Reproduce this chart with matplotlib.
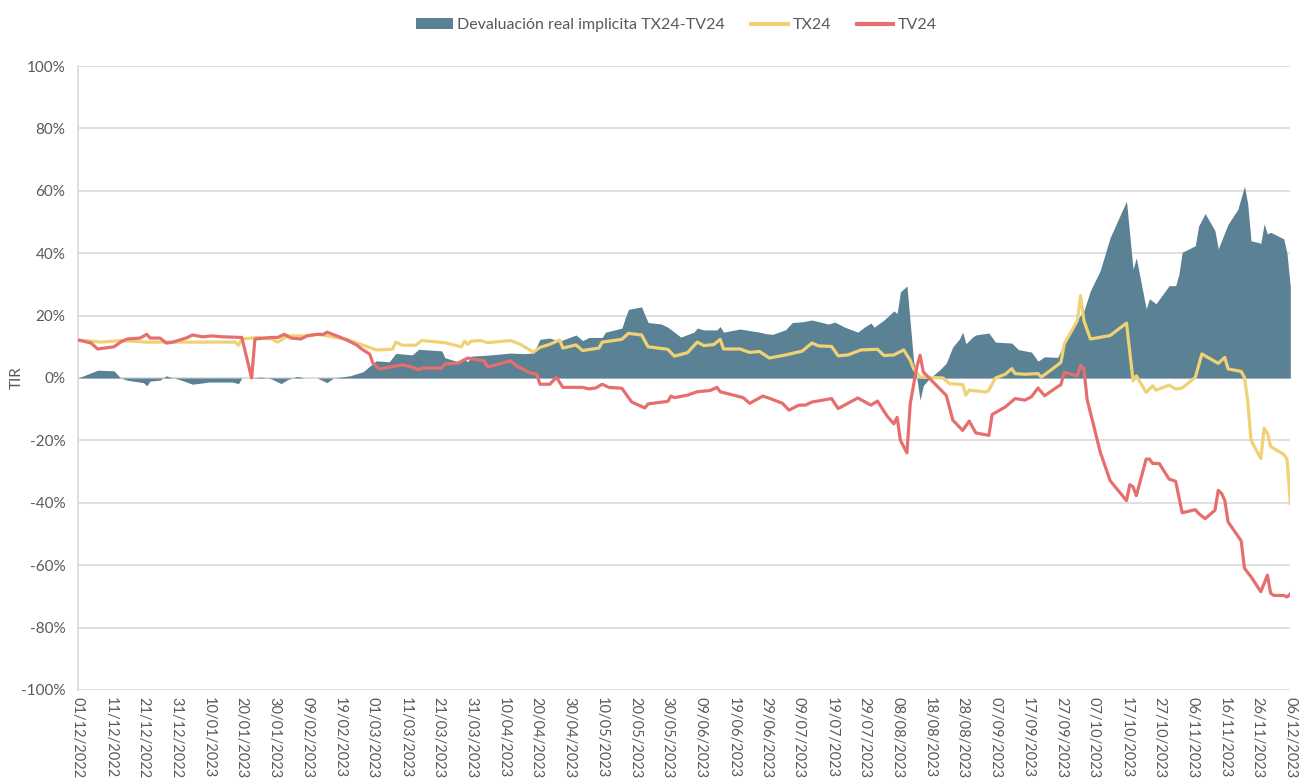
import matplotlib
matplotlib.use("Agg")
import matplotlib.pyplot as plt
from matplotlib.patches import Patch
from matplotlib.lines import Line2D
from matplotlib.ticker import FuncFormatter
import pandas as pd

# ---- data: Devaluación real implícita (area) ----
dev_dates = ["2022-12-01","2022-12-07","2022-12-12","2022-12-14","2022-12-16","2022-12-21","2022-12-22",
             "2022-12-23","2022-12-26","2022-12-28","2022-12-29","2023-01-01","2023-01-05","2023-01-10",
             "2023-01-17","2023-01-19","2023-01-20","2023-01-23","2023-01-26","2023-01-29","2023-02-01",
             "2023-02-03","2023-02-06","2023-02-08","2023-02-12","2023-02-15","2023-02-17","2023-02-22",
             "2023-02-26","2023-03-02","2023-03-06","2023-03-08","2023-03-13","2023-03-15","2023-03-22",
             "2023-03-23","2023-03-27","2023-03-29","2023-03-30","2023-03-31","2023-04-06","2023-04-12",
             "2023-04-16","2023-04-19","2023-04-21","2023-04-24","2023-04-27","2023-04-28","2023-05-02",
             "2023-05-04","2023-05-06","2023-05-10","2023-05-11","2023-05-16","2023-05-17","2023-05-18",
             "2023-05-22","2023-05-23","2023-05-24","2023-05-28","2023-05-30","2023-06-03","2023-06-07",
             "2023-06-08","2023-06-10","2023-06-14","2023-06-15","2023-06-16","2023-06-21","2023-06-24",
             "2023-06-27","2023-06-29","2023-07-01","2023-07-05","2023-07-07","2023-07-10","2023-07-13",
             "2023-07-18","2023-07-20","2023-07-23","2023-07-27","2023-07-29","2023-07-31","2023-08-01",
             "2023-08-04","2023-08-07","2023-08-08","2023-08-09","2023-08-11","2023-08-13","2023-08-14",
             "2023-08-15","2023-08-16","2023-08-18","2023-08-21","2023-08-23","2023-08-25","2023-08-27",
             "2023-08-28","2023-08-29","2023-08-31","2023-09-01","2023-09-05","2023-09-07","2023-09-12",
             "2023-09-14","2023-09-18","2023-09-20","2023-09-22","2023-09-26","2023-09-28","2023-10-01",
             "2023-10-04","2023-10-06","2023-10-09","2023-10-12","2023-10-17","2023-10-19","2023-10-20",
             "2023-10-23","2023-10-24","2023-10-26","2023-10-30","2023-11-01","2023-11-02","2023-11-03",
             "2023-11-07","2023-11-08","2023-11-10","2023-11-13","2023-11-14","2023-11-17","2023-11-20",
             "2023-11-22","2023-11-23","2023-11-24","2023-11-27","2023-11-28","2023-11-29","2023-11-30",
             "2023-12-04","2023-12-05","2023-12-06"]
dev_values = [0, 2.5, 2.3, 0, -0.7, -1.5, -2.5,
              -1, -0.7, 0.7, 0.3, -0.5, -2, -1.3,
              -1.3, -1.8, 0, 0, 0.3, -0.3, -1.8,
              -0.5, 0.5, 0, 0, -1.5, 0, 0.7,
              2, 5.5, 5.2, 7.9, 7.4, 9.2, 8.7,
              6.5, 5.2, 6, 5.2, 7, 7.4, 8,
              7.8, 8, 12.4, 12.8, 11.7, 12.2, 13.8,
              12, 13, 13, 14.7, 16, 19.2, 22,
              22.8, 20.2, 17.8, 17.3, 16.3, 13.1, 14.7,
              16, 15.4, 15.4, 16.5, 14.7, 15.7, 15.2,
              14.7, 14.2, 14, 15.5, 17.8, 18, 18.6,
              17.3, 17.9, 16.3, 14.7, 16.3, 17.6, 16.3,
              18.6, 21.5, 20.7, 27.6, 29.5, 5.7, 0,
              -7.1, -2.4, 0, 2.6, 4.8, 10, 12.5,
              14.7, 11, 13.1, 13.8, 14.4, 11.5, 11.2,
              9.1, 8.3, 5.4, 6.8, 6.6, 11, 17.3,
              21.6, 28, 34.5, 45, 56.7, 34.9, 38.5,
              22.2, 25.4, 23.8, 29.6, 29.6, 33.3, 40.3,
              42.4, 48.7, 52.7, 47.2, 41.4, 49.3, 54.1,
              61.5, 55.8, 44, 43.2, 49.4, 46.2, 46.7,
              44.6, 39.8, 29.1]

# ---- data: TX24 ----
tx_dates = ["2022-12-01","2022-12-08","2022-12-14","2022-12-22","2023-01-03","2023-01-11","2023-01-18",
            "2023-01-19","2023-01-20","2023-01-25","2023-01-29","2023-01-31","2023-02-03","2023-02-08",
            "2023-02-12","2023-02-15","2023-02-21","2023-02-25","2023-03-02","2023-03-07","2023-03-08",
            "2023-03-10","2023-03-14","2023-03-16","2023-03-23","2023-03-28","2023-03-29","2023-03-30",
            "2023-03-31","2023-04-03","2023-04-05","2023-04-12","2023-04-15","2023-04-19","2023-04-21",
            "2023-04-24","2023-04-27","2023-04-28","2023-05-02","2023-05-04","2023-05-09","2023-05-10",
            "2023-05-16","2023-05-18","2023-05-22","2023-05-24","2023-05-30","2023-06-01","2023-06-05",
            "2023-06-08","2023-06-10","2023-06-13","2023-06-15","2023-06-16","2023-06-21","2023-06-24",
            "2023-06-27","2023-06-30","2023-07-05","2023-07-10","2023-07-13","2023-07-15","2023-07-19",
            "2023-07-21","2023-07-24","2023-07-28","2023-08-02","2023-08-04","2023-08-07","2023-08-10",
            "2023-08-12","2023-08-13","2023-08-15","2023-08-22","2023-08-24","2023-08-28","2023-08-29",
            "2023-08-30","2023-09-04","2023-09-05","2023-09-07","2023-09-10","2023-09-12","2023-09-13",
            "2023-09-16","2023-09-20","2023-09-21","2023-09-24","2023-09-27","2023-09-28","2023-10-02",
            "2023-10-03","2023-10-04","2023-10-06","2023-10-12","2023-10-17","2023-10-19","2023-10-20",
            "2023-10-23","2023-10-25","2023-10-26","2023-10-30","2023-11-01","2023-11-03","2023-11-07",
            "2023-11-09","2023-11-14","2023-11-16","2023-11-17","2023-11-21","2023-11-22","2023-11-23",
            "2023-11-24","2023-11-27","2023-11-28","2023-11-29","2023-11-30","2023-12-04","2023-12-05",
            "2023-12-06"]
tx_values = [12.2, 11.5, 12, 11.5, 11.5, 11.5, 11.5,
             10.5, 12.5, 13, 12.5, 11.5, 13.5, 13.5,
             14, 13.5, 12.4, 10.9, 9, 9.2, 11.5,
             10.5, 10.5, 12, 11.3, 10, 11.8, 10.8,
             11.8, 12, 11.3, 12, 10.8, 8.3, 9.8,
             10.8, 12.2, 9.6, 10.6, 8.8, 9.6, 11.5,
             12.4, 14.3, 13.8, 10, 9.2, 7, 8.1,
             11.5, 10.4, 10.7, 12.4, 9.3, 9.3, 8.2,
             8.5, 6.4, 7.4, 8.6, 11.2, 10.3, 10.1,
             7.1, 7.4, 9, 9.2, 7.2, 7.4, 9,
             5.7, 3, 0.3, 0, -1.8, -2.1, -5.5,
             -3.9, -4.5, -3.9, 0, 1.2, 3, 1.4,
             1.2, 1.4, 0.3, 2.6, 5, 10.9, 18.4,
             26.4, 18.4, 12.5, 13.6, 17.6, -0.9, 0.7,
             -4.6, -2.5, -3.9, -2.3, -3.5, -3.2, 0.2,
             7.7, 4.7, 6.6, 2.9, 2.1, 0.2, -7.3,
             -20, -25.8, -16.1, -17.7, -22, -24.5, -26,
             -40.2]

# ---- data: TV24 ----
tv_dates = ["2022-12-01","2022-12-05","2022-12-07","2022-12-12","2022-12-14","2022-12-16","2022-12-20",
            "2022-12-22","2022-12-23","2022-12-26","2022-12-28","2022-12-30","2023-01-03","2023-01-05",
            "2023-01-08","2023-01-11","2023-01-14","2023-01-20","2023-01-23","2023-01-24","2023-01-29",
            "2023-01-31","2023-02-02","2023-02-04","2023-02-07","2023-02-09","2023-02-12","2023-02-14",
            "2023-02-15","2023-02-18","2023-02-21","2023-02-24","2023-02-26","2023-02-28","2023-03-01",
            "2023-03-03","2023-03-06","2023-03-10","2023-03-13","2023-03-15","2023-03-16","2023-03-22",
            "2023-03-23","2023-03-27","2023-03-30","2023-04-02","2023-04-04","2023-04-05","2023-04-12",
            "2023-04-14","2023-04-18","2023-04-20","2023-04-21","2023-04-24","2023-04-26","2023-04-28",
            "2023-05-04","2023-05-06","2023-05-08","2023-05-10","2023-05-12","2023-05-16","2023-05-19",
            "2023-05-23","2023-05-24","2023-05-30","2023-05-31","2023-06-01","2023-06-05","2023-06-08",
            "2023-06-12","2023-06-14","2023-06-15","2023-06-22","2023-06-24","2023-06-28","2023-06-30",
            "2023-07-04","2023-07-06","2023-07-09","2023-07-11","2023-07-13","2023-07-19","2023-07-21",
            "2023-07-27","2023-07-31","2023-08-02","2023-08-05","2023-08-07","2023-08-08","2023-08-09",
            "2023-08-11","2023-08-12","2023-08-14","2023-08-15","2023-08-16","2023-08-19","2023-08-23",
            "2023-08-25","2023-08-28","2023-08-30","2023-09-01","2023-09-05","2023-09-06","2023-09-10",
            "2023-09-13","2023-09-16","2023-09-18","2023-09-20","2023-09-22","2023-09-25","2023-09-27",
            "2023-09-28","2023-10-02","2023-10-03","2023-10-04","2023-10-05","2023-10-07","2023-10-09",
            "2023-10-12","2023-10-17","2023-10-18","2023-10-19","2023-10-20","2023-10-23","2023-10-24",
            "2023-10-25","2023-10-27","2023-10-30","2023-11-01","2023-11-03","2023-11-07","2023-11-08",
            "2023-11-10","2023-11-13","2023-11-14","2023-11-15","2023-11-16","2023-11-17","2023-11-21",
            "2023-11-22","2023-11-24","2023-11-27","2023-11-29","2023-11-30","2023-12-01","2023-12-04",
            "2023-12-05","2023-12-06"]
tv_values = [12.2, 11.2, 9.3, 10, 11.5, 12.5, 12.8,
             14, 12.8, 12.8, 11.2, 11.5, 12.8, 13.8,
             13.2, 13.5, 13.2, 13, 0, 12.5, 13,
             13, 14, 12.8, 12.5, 13.5, 14, 14,
             14.7, 13.5, 12.2, 10.6, 9, 7.7, 4.8,
             2.9, 3.5, 4.2, 3.5, 2.6, 3.2, 3.2,
             4.5, 4.8, 6.4, 5.8, 5.5, 3.5, 5.5,
             3.8, 1.6, 1.3, -2, -2, 0.2, -3,
             -3, -3.5, -3.2, -2, -3, -3.3, -7.7,
             -9.6, -8.3, -7.5, -5.8, -6.3, -5.5, -4.4,
             -4, -3, -4.4, -6.3, -8.1, -5.8, -6.5,
             -8.1, -10.3, -8.7, -8.7, -7.7, -6.6, -9.8,
             -6.4, -8.7, -7.4, -12.3, -14.7, -12.6, -20,
             -24, -8.2, 3.5, 7.3, 1.9, -1.3, -5.6,
             -13.5, -16.8, -13.8, -17.6, -18.4, -11.7, -9.3,
             -6.6, -7.1, -6, -3.2, -5.7, -3.5, -2.1,
             1.8, 0.7, 4, 2.9, -7, -15.3, -23.8,
             -32.9, -39.3, -34.2, -34.9, -37.7, -26, -26,
             -27.4, -27.4, -32.4, -33.1, -43.2, -42.2, -43.4,
             -45.1, -42.4, -36, -37, -39.2, -46.1, -52.2,
             -61, -63.7, -68.5, -63.2, -69, -69.7, -69.7,
             -70.2, -69.2]

legend_labels = ["Devaluación real implicita TX24-TV24", "TX24", "TV24"]
y_ticks = [-100, -80, -60, -40, -20, 0, 20, 40, 60, 80, 100]

# ---- styling ----
C_AREA = "#5b8294"
C_TX = "#f0d274"
C_TV = "#e66f6d"
C_TEXT = "#595959"
C_GRID = "#d9d9d9"

plt.rcParams["font.family"] = ["Lato", "DejaVu Sans"]

fig = plt.figure(figsize=(13.06, 7.83), dpi=100)
ax = fig.add_axes([0.0597, 0.1188, 0.9283, 0.7969])

dd = pd.to_datetime(dev_dates)
txd = pd.to_datetime(tx_dates)
tvd = pd.to_datetime(tv_dates)

ax.fill_between(dd, 0, dev_values, color=C_AREA, linewidth=0, zorder=2)
ax.plot(txd, tx_values, color=C_TX, linewidth=2.3, zorder=3, solid_joinstyle="round")
ax.plot(tvd, tv_values, color=C_TV, linewidth=2.3, zorder=4, solid_joinstyle="round")

start = pd.Timestamp("2022-12-01")
end = pd.Timestamp("2023-12-06")
ax.set_xlim(start, end)
ax.set_ylim(-100, 100)
ax.set_yticks(y_ticks)
ax.yaxis.set_major_formatter(FuncFormatter(lambda v, p: f"{int(v)}%"))
ax.grid(axis="y", color=C_GRID, linewidth=1.2, zorder=0)
ax.set_axisbelow(True)

xt = pd.date_range(start, end, freq="10D")
ax.set_xticks(xt)
ax.set_xticklabels([d.strftime("%d/%m/%Y") for d in xt], rotation=-90, fontsize=10.5, color=C_TEXT)
ax.tick_params(axis="x", length=0, pad=5)
ax.tick_params(axis="y", length=0, labelsize=11, labelcolor=C_TEXT, pad=9)

for s in ["top", "right", "bottom"]:
    ax.spines[s].set_visible(False)
ax.spines["left"].set_color(C_GRID)
ax.spines["left"].set_linewidth(1.2)

ax.set_ylabel("TIR", fontsize=11, color=C_TEXT)
ax.yaxis.set_label_coords(-0.045, 0.5)

handles = [Patch(facecolor=C_AREA, edgecolor="none"),
           Line2D([0], [0], color=C_TX, linewidth=3),
           Line2D([0], [0], color=C_TV, linewidth=3)]
fig.legend(handles, legend_labels, loc="upper center", bbox_to_anchor=(0.518, 0.995), ncol=3,
           frameon=False, fontsize=11.5, labelcolor=C_TEXT, handlelength=2.3, handletextpad=0.3,
           columnspacing=1.6)

fig.savefig("out.png", dpi=100)
